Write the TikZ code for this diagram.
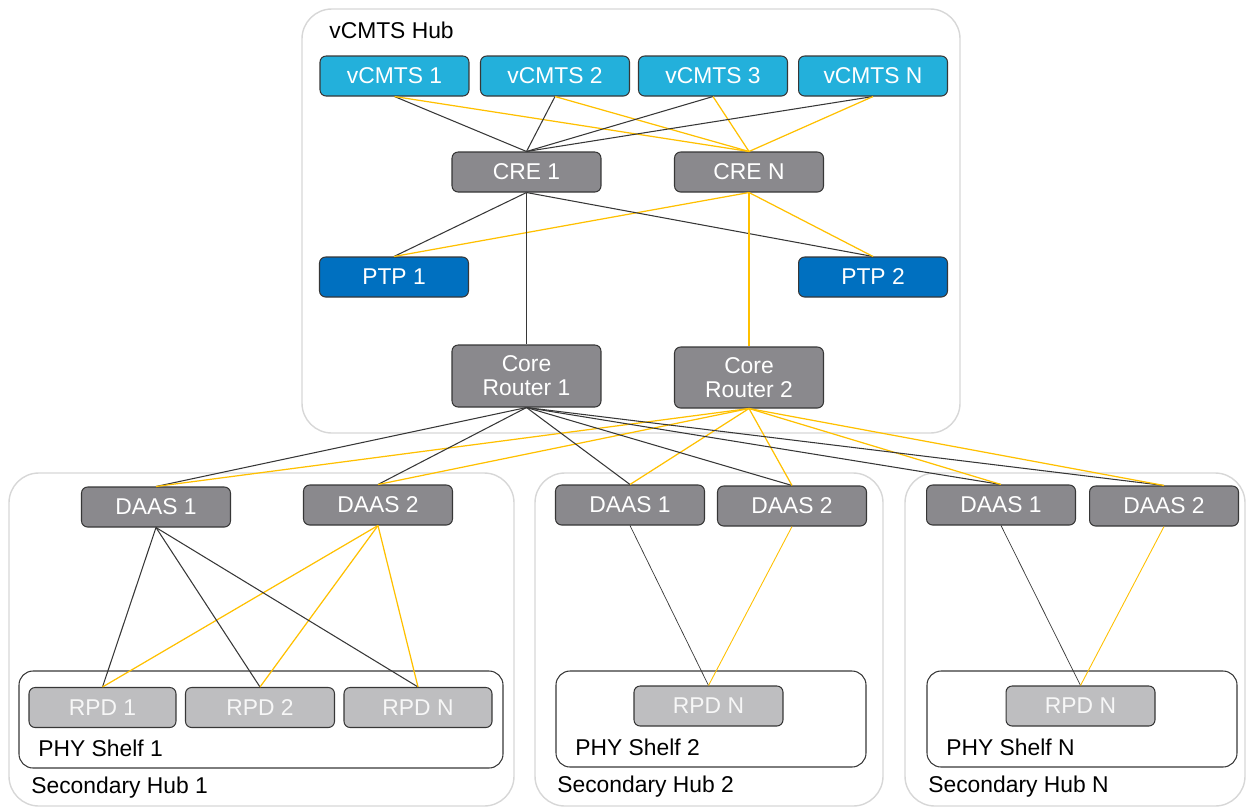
\documentclass[tikz,border=0pt]{standalone}
\usepackage{fontspec}
\setmainfont{Liberation Sans}
\usepackage{tikz}
\definecolor{vcmtsblue}{RGB}{35,176,219}
\definecolor{ptpblue}{RGB}{0,112,192}
\definecolor{boxgray}{RGB}{138,137,141}
\definecolor{rpdgray}{RGB}{190,190,192}
\definecolor{linkyellow}{RGB}{255,192,0}
\definecolor{linkblack}{RGB}{55,55,55}
\definecolor{hubline}{RGB}{215,215,215}

\begin{document}
\begin{tikzpicture}[x=0.02cm,y=-0.02cm,
    unit/.style={draw=linkblack,line width=0.6pt,rounded corners=3.5pt,text=white,
        minimum width=2.98cm,minimum height=0.8cm,inner sep=0pt,align=center,
        font=\fontsize{13}{13.6}\selectfont},
    vcmts/.style={unit,fill=vcmtsblue},
    ptp/.style={unit,fill=ptpblue},
    gray/.style={unit,fill=boxgray},
    rpd/.style={unit,fill=rpdgray,text=white!97!black},
    hub/.style={draw=hubline,line width=0.8pt,rounded corners=17pt},
    shelf/.style={draw=linkblack,line width=0.6pt,rounded corners=8pt},
    lbl/.style={anchor=west,inner sep=0pt,font=\fontsize{13}{13.6}\selectfont},
    blk/.style={draw=linkblack,line width=0.6pt},
    ylw/.style={draw=linkyellow,line width=0.7pt}]
    \useasboundingbox (0,0) rectangle (1250,809);
    % hubs and shelves
    \draw[hub] (302,9) rectangle (960,433);
    \draw[hub] (9,473) rectangle (514,806);
    \draw[hub] (535,473) rectangle (883,806);
    \draw[hub] (905,473) rectangle (1245,806);
    \draw[shelf] (19,671) rectangle (503,768);
    \draw[shelf] (556,671) rectangle (866,767);
    \draw[shelf] (927,671) rectangle (1237,767);
    \node[lbl] (hubtitle) at (329,30) {vCMTS Hub};
    \node[lbl] (shelf1) at (38,748) {PHY Shelf 1};
    \node[lbl] (sec1) at (31,788) {Secondary Hub 1};
    \node[lbl] (shelf2) at (575,747) {PHY Shelf 2};
    \node[lbl] (sec2) at (557,787) {Secondary Hub 2};
    \node[lbl] (shelf3) at (946,747) {PHY Shelf N};
    \node[lbl] (sec3) at (928,787) {Secondary Hub N};
    % vCMTS hub
    \node[vcmts] (v1) at (394.5,76) {vCMTS 1};
    \node[vcmts] (v2) at (555,76) {vCMTS 2};
    \node[vcmts] (v3) at (713,76) {vCMTS 3};
    \node[vcmts] (vN) at (873,76) {vCMTS N};
    \node[gray] (cre1) at (526.5,172) {CRE 1};
    \node[gray] (creN) at (749,172) {CRE N};
    \node[ptp] (ptp1) at (394,277) {PTP 1};
    \node[ptp] (ptp2) at (873,277) {PTP 2};
    \node[gray,minimum height=1.24cm] (cr1) at (526.5,376) {Core\\Router 1};
    \node[gray,minimum height=1.22cm] (cr2) at (749,377.5) {Core\\Router 2};
    % secondary hubs
    \node[gray] (d11) at (156,507) {DAAS 1};
    \node[gray] (d12) at (378,505) {DAAS 2};
    \node[gray] (d21) at (630,505) {DAAS 1};
    \node[gray] (d22) at (792,506) {DAAS 2};
    \node[gray] (d31) at (1001,505) {DAAS 1};
    \node[gray] (d32) at (1164,506) {DAAS 2};
    \node[rpd,minimum width=2.94cm] (r11) at (102.5,707.5) {RPD 1};
    \node[rpd] (r12) at (260,707.5) {RPD 2};
    \node[rpd,minimum width=2.96cm] (r1N) at (418,707.5) {RPD N};
    \node[rpd] (r2N) at (708.5,706) {RPD N};
    \node[rpd] (r3N) at (1080.5,706) {RPD N};
    % links
    \foreach \v in {v1,v2,v3,vN} {
        \draw[blk] (\v.south) -- (cre1.north);
        \draw[ylw] (\v.south) -- (creN.north);
    }
    \foreach \p in {ptp1,ptp2} {
        \draw[blk] (cre1.south) -- (\p.north);
        \draw[ylw] (creN.south) -- (\p.north);
    }
    \draw[blk] (cre1.south) -- (cr1.north);
    \draw[ylw] (creN.south) -- (cr2.north);
    \foreach \d in {d11,d12,d21,d22,d31,d32} {
        \draw[blk] (cr1.south) -- (\d.north);
        \draw[ylw] (cr2.south) -- (\d.north);
    }
    \foreach \r in {r11,r12,r1N} {
        \draw[blk] (d11.south) -- (\r.north);
        \draw[ylw] (d12.south) -- (\r.north);
    }
    \draw[blk,line width=0.4pt] (d21.south) -- (r2N.north);
    \draw[ylw,line width=0.5pt] (d22.south) -- (r2N.north);
    \draw[blk,line width=0.4pt] (d31.south) -- (r3N.north);
    \draw[ylw,line width=0.5pt] (d32.south) -- (r3N.north);
\end{tikzpicture}
\end{document}
